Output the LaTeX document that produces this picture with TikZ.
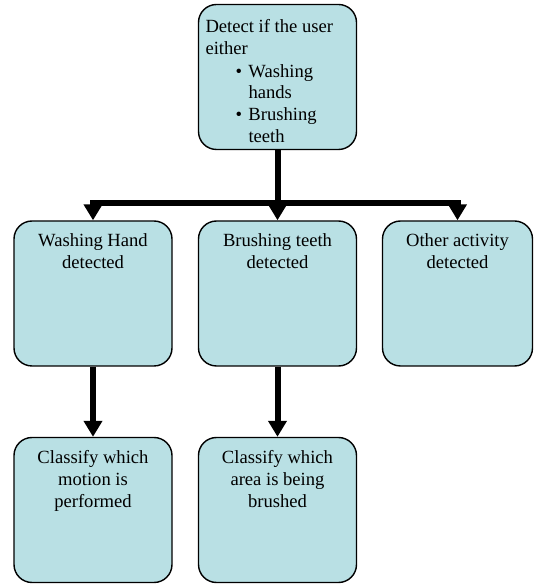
\documentclass[tikz,border=0pt]{standalone}
\usepackage{fontspec}
\setmainfont{Liberation Serif}
\usetikzlibrary{shapes,arrows.meta,positioning}
\definecolor{boxfill}{RGB}{185,224,228}
\newcommand{\boxtext}[2][158pt]{\parbox[c][145pt][t]{#1}{\centering\rule{0pt}{26pt}#2}}
\tikzstyle{stage} = [rectangle, rounded corners=18pt, minimum width=158pt, minimum height=145pt, inner sep=0pt, draw=black, line width=1.4pt, fill=boxfill, font=\fontsize{18.6pt}{21.8pt}\selectfont]
\tikzstyle{flow} = [line width=6pt, -{Triangle[width=18pt,length=16pt]}]

\begin{document}
\begin{tikzpicture}[node distance=216.5pt]
	\useasboundingbox (0,0) rectangle (534pt,584pt);
	\node (detect) [stage] at (277.5pt,507pt) {\parbox[c][145pt][t]{158pt}{\raggedright\leftskip=7pt\relax
		\rule{0pt}{28pt}Detect if the user\\either\\[1pt]
		\hspace*{30pt}\makebox[13pt][l]{\textbullet}Washing\\
		\hspace*{43pt}hands\\
		\hspace*{30pt}\makebox[13pt][l]{\textbullet}Brushing\\
		\hspace*{43pt}teeth}};
	\node (washing) [stage, below of=detect, xshift=-184.5pt] {\boxtext{Washing Hand\\detected}};
	\node (brushing) [stage, below of=detect] {\boxtext{Brushing teeth\\detected}};
	\node (other) [stage, below of=detect, xshift=180pt, minimum width=150pt] {\boxtext[150pt]{Other activity\\detected}};
	\node (motion) [stage, below of=washing] {\boxtext{Classify which\\motion is\\performed}};
	\node (area) [stage, below of=brushing] {\boxtext{Classify which\\area is being\\brushed}};
	\coordinate (split) at ([yshift=-52.5pt]detect.south);
	\draw [flow] (detect) -- (brushing);
	\draw [flow] (split) -| (washing);
	\draw [flow] (split) -| (other);
	\draw [flow] (washing) -- (motion);
	\draw [flow] (brushing) -- (area);
\end{tikzpicture}
\end{document}
